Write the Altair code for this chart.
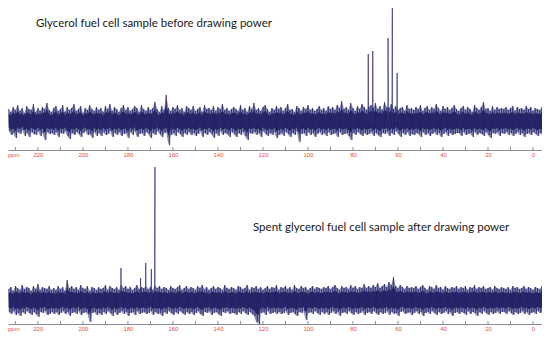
import altair as alt
import pandas as pd

# --- data -----------------------------------------------------------------
ppm_start = 233  # first noise bin (ppm), bins step 1 ppm towards 0

top_hi = [
    12,9,14,11,16,10,13,8,15,12,11,17,9,13,10,14,12,18,11,9,
    13,15,10,12,16,9,14,11,13,17,10,12,15,8,13,11,16,12,10,14,
    11,13,9,15,12,17,10,14,12,9,13,16,11,14,10,12,15,13,9,16,
    12,10,14,11,13,19,12,9,15,11,26,13,10,14,12,16,11,13,9,15,
    13,11,15,10,12,14,9,16,12,13,11,15,10,14,12,17,11,13,10,12,
    14,12,10,16,11,13,9,15,12,18,11,13,10,14,16,12,9,13,11,15,
    12,14,10,13,17,11,12,9,15,13,10,14,12,16,11,13,10,12,15,11,
    13,10,15,12,14,11,16,13,20,12,14,11,18,13,10,15,12,17,14,11,
    14,16,13,18,12,15,11,19,14,13,17,12,15,11,13,14,10,16,12,13,
    11,14,12,16,10,13,15,11,14,12,17,13,10,15,12,14,11,13,16,12,
    10,13,15,11,14,12,9,16,13,11,14,19,12,13,10,15,11,14,12,13,
    12,14,11,13,15,10,14,12,13,11,15,12,14,10,13,12,11,14,13,12,
]
top_lo = [
    10,14,12,17,11,13,9,15,12,16,11,13,14,10,15,12,19,11,13,12,
    14,11,16,12,13,10,15,18,12,14,11,13,16,12,10,14,13,17,11,15,
    12,15,11,14,13,10,16,12,14,11,15,13,12,17,11,14,10,16,13,12,
    15,11,13,17,12,14,10,13,16,12,11,24,14,12,15,11,13,16,12,14,
    11,14,12,15,13,10,16,12,14,11,13,17,12,15,10,14,12,13,16,11,
    13,16,12,14,11,15,19,12,13,11,14,12,16,10,13,15,12,14,11,17,
    14,12,15,11,13,16,12,14,10,21,13,12,15,11,14,12,16,13,11,14,
    12,15,11,14,13,12,16,11,14,13,12,15,19,12,14,11,13,15,12,14,
    13,11,15,12,14,16,12,13,11,15,12,14,10,13,16,12,14,11,15,13,
    14,12,13,16,11,14,12,15,13,11,14,12,16,13,11,15,12,14,13,12,
    12,15,11,14,13,12,16,11,14,12,13,15,11,14,17,12,13,11,15,12,
    13,11,14,12,15,13,11,14,12,16,13,12,14,11,13,15,12,14,11,13,
]
top_peak_ppm = [73.2, 71.2, 64.4, 62.5, 60.4]
top_peak_int = [67, 70, 83, 119, 48]

bot_hi = [
    11,13,9,14,12,10,15,11,13,12,9,14,11,16,10,13,12,11,14,10,
    12,10,14,11,13,9,20,12,14,11,13,10,15,12,11,14,9,13,12,10,
    13,11,12,15,10,14,12,11,13,10,16,12,14,11,13,10,12,15,11,13,
    12,14,11,13,10,15,12,14,11,13,12,10,14,12,11,13,15,10,12,14,
    11,13,12,10,14,12,15,11,13,10,12,14,11,13,12,10,15,12,11,13,
    12,10,14,13,11,12,15,10,13,12,14,11,13,10,12,14,11,13,12,15,
    10,13,12,14,11,13,10,15,12,11,14,12,13,10,12,14,11,13,12,11,
    13,12,14,11,13,15,12,10,14,12,13,11,15,12,14,11,13,12,16,12,
    14,12,15,13,17,12,14,16,13,18,15,23,14,12,15,13,11,14,12,13,
    12,14,11,13,15,12,10,14,13,11,15,12,13,10,14,12,11,13,12,14,
    11,13,12,14,10,13,12,15,11,13,12,14,11,12,13,10,14,12,11,13,
    12,11,13,10,14,12,13,11,12,14,11,13,12,10,13,12,11,14,12,13,
]
bot_lo = [
    12,14,11,15,13,16,12,14,11,13,15,12,14,17,12,13,11,15,14,12,
    14,12,15,13,11,14,12,16,13,12,14,11,15,13,12,14,22,13,12,15,
    13,15,12,14,11,13,16,12,15,13,11,14,12,16,13,12,15,11,14,13,
    12,14,13,11,15,12,14,13,16,12,14,11,13,15,12,14,11,13,15,12,
    14,12,15,13,11,14,16,12,13,11,15,13,12,14,16,12,13,11,14,13,
    13,15,12,14,11,13,15,12,14,16,22,24,13,12,15,11,14,13,12,14,
    12,14,13,11,15,13,12,14,16,12,13,11,20,13,12,14,11,13,15,12,
    14,12,15,13,11,14,12,16,13,12,14,11,13,15,12,14,13,11,15,13,
    12,14,11,13,15,12,14,13,11,15,12,14,13,16,12,11,14,13,12,15,
    13,11,14,12,16,13,12,14,11,13,15,12,14,13,11,14,12,16,13,12,
    14,12,13,15,11,14,12,13,16,12,14,11,13,15,12,14,13,11,14,12,
    12,14,11,13,15,12,14,13,11,14,12,15,13,12,14,11,13,12,14,13,
]
bot_peak_ppm = [183.1, 174.4, 172.1, 169.6, 168.0]
bot_peak_int = [32, 22, 37, 31, 133]

tick_ppm = [230, 220, 210, 200, 190, 180, 170, 160, 150, 140, 130, 120,
            110, 100, 90, 80, 70, 60, 50, 40, 30, 20, 10, 0]
label_ppm = [220, 200, 180, 160, 140, 120, 100, 80, 60, 40, 20, 0]

title_top = "Glycerol fuel cell sample before drawing power"
title_bot = "Spent glycerol fuel cell sample after drawing power"

# --- build tables ------------------------------------------------------------
def spectrum(hi, lo, peak_ppm, peak_int):
    rows = []
    for i, (h, l) in enumerate(zip(hi, lo)):
        p = ppm_start - i
        rows.append((p, h))
        rows.append((p - 0.5, -l))
    for p, h in zip(peak_ppm, peak_int):
        rows += [(p + 0.15, 0), (p, h), (p - 0.15, 0)]
    return pd.DataFrame(rows, columns=["ppm", "intensity"]).sort_values("ppm", ascending=False)


def band(hi, lo):
    rows = [(ppm_start - i, h, -l) for i, (h, l) in enumerate(zip(hi, lo))]
    return pd.DataFrame(rows, columns=["ppm", "hi", "lo"])


W = 534
NAVY = "#16165a"
RED = "#e2503f"
AXIS = "#8c8c98"

xscale = alt.Scale(domain=[233.3, -4.0], nice=False, zero=False)
xaxis = alt.Axis(values=label_ppm, title=None, ticks=False, grid=False,
                 domainColor=AXIS, domainWidth=1, labelColor=RED,
                 labelFontSize=6, labelFont="Liberation Sans", labelPadding=1)


def panel(df, bd, H, ydom, title, tx, ty):
    ysc = alt.Scale(domain=ydom, nice=False, zero=False)
    outer = alt.Chart(bd).mark_area(color="#7a7aa8", opacity=0.85, clip=True).encode(
        x=alt.X("ppm:Q", scale=xscale, axis=xaxis),
        y=alt.Y("hi:Q", scale=ysc, axis=None),
        y2="lo:Q",
    )
    core = alt.Chart(bd).transform_calculate(
        chi="datum.hi * 0.62", clo="datum.lo * 0.62"
    ).mark_area(color=NAVY, opacity=0.95, clip=True).encode(
        x=alt.X("ppm:Q", scale=xscale, axis=xaxis),
        y=alt.Y("chi:Q", scale=ysc, axis=None),
        y2="clo:Q",
    )
    line = alt.Chart(df).mark_line(color="#2c2c70", strokeWidth=0.7, clip=True).encode(
        x=alt.X("ppm:Q", scale=xscale, axis=xaxis),
        y=alt.Y("intensity:Q", scale=ysc, axis=None),
    )
    ticks = alt.Chart(pd.DataFrame({"ppm": tick_ppm})).mark_rule(color=AXIS, strokeWidth=1).encode(
        x=alt.X("ppm:Q", scale=xscale),
        y=alt.value(H - 3), y2=alt.value(H),
    )
    ppm_lbl = alt.Chart(pd.DataFrame({"t": ["ppm"]})).mark_text(
        color=RED, fontSize=6, font="Liberation Sans", align="left", baseline="top"
    ).encode(x=alt.value(0), y=alt.value(H + 2), text="t:N")
    ttl = alt.Chart(pd.DataFrame({"t": [title]})).mark_text(
        color="#1a1a1a", fontSize=11.5, font="Lato", align="left", baseline="middle"
    ).encode(x=alt.value(tx), y=alt.value(ty), text="t:N")
    return alt.layer(outer, core, line, ticks, ppm_lbl, ttl).properties(width=W, height=H)


top = panel(spectrum(top_hi, top_lo, top_peak_ppm, top_peak_int), band(top_hi, top_lo),
            142, [-29, 113], title_top, 28, 16)
bot = panel(spectrum(bot_hi, bot_lo, bot_peak_ppm, bot_peak_int), band(bot_hi, bot_lo),
            157, [-24, 133], title_bot, 245, 61)

chart = alt.vconcat(top, bot, spacing=9).properties(padding=0).configure_view(stroke=None)

chart.save("out.html", embed_options={"renderer": "svg", "actions": False})
